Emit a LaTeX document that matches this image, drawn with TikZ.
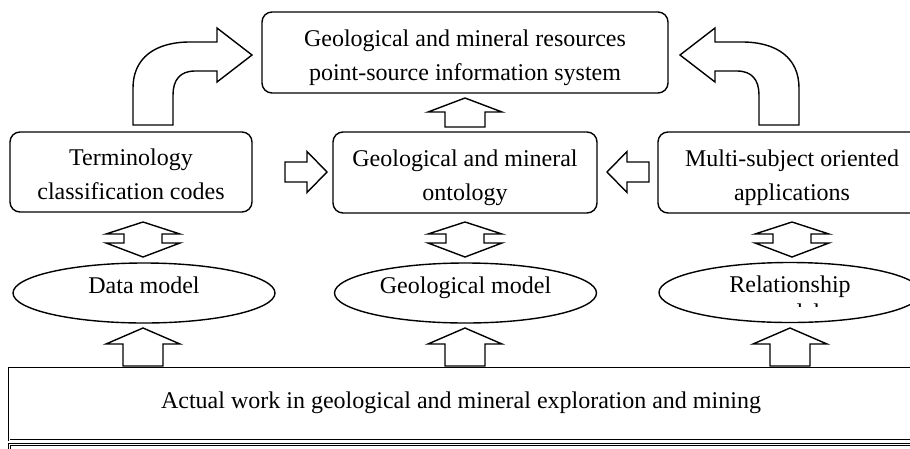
\documentclass[tikz,border=0pt]{standalone}
\usepackage{fontspec}
\setmainfont{Liberation Serif}
\usetikzlibrary{shapes.geometric}
\newcommand\bxstrut{\rule[-6pt]{0pt}{33pt}}
\newcommand\elstrut{\rule[-17pt]{0pt}{34pt}}
\newcommand\wkstrut{\rule[-13pt]{0pt}{34pt}}
\tikzset{
  every node/.style={font=\fontsize{24}{30.5}\selectfont, inner sep=0pt},
  rbox/.style={draw, rounded corners=10pt, align=center, minimum height=81pt},
  oval/.style={draw, ellipse, minimum width=262pt, minimum height=60pt},
  wbox/.style={draw, double, double distance=0.9pt, line width=0.9pt},
  blk/.style={draw, fill=white, line join=miter},
  pics/uparr/.style 2 args={code={\path[blk] (0,0) -- (37,#1) -- (20,#1) -- (20,#2) -- (-20,#2) -- (-20,#1) -- (-37,#1) -- cycle;}},
  pics/dblarr/.style={code={\path[blk] (0,0) -- (37,12) -- (19,12) -- (19,21) -- (37,21) -- (0,35) -- (-37,21) -- (-19,21) -- (-19,12) -- (-37,12) -- cycle;}},
  pics/rtarr/.style={code={\path[blk] (0,0) -- (-20,-20.5) -- (-20,-10) -- (-42,-10) -- (-42,10) -- (-20,10) -- (-20,20.5) -- cycle;}},
  pics/bent/.style={code={\path[blk] (-333,125) -- (-333,88) .. controls (-333,58) and (-311,42) .. (-276,42) -- (-249,42) -- (-249,28) -- (-214,55) -- (-249,82) -- (-249,71) -- (-271,71) .. controls (-286,71) and (-293,80) .. (-293,95) -- (-293,125) -- cycle;}}
}
\begin{document}
\begin{tikzpicture}[x=1pt,y=-1pt,line width=1.4pt]
\clip (0,0) rectangle (910,448);
\fill[white] (0,0) rectangle (910,448);

% boxes
\node[rbox, minimum width=406pt] (sys) at (465,52.5) {\bxstrut Geological and mineral resources\\\bxstrut point-source information system};
\node[rbox, minimum width=242pt, minimum height=80pt] (term) at (131,172) {\bxstrut Terminology\\\bxstrut classification codes};
\node[rbox, minimum width=264pt] (onto) at (465,172.5) {\bxstrut Geological and mineral\\\bxstrut ontology};
\node[rbox, minimum width=268pt] (app) at (792,172.5) {\bxstrut Multi-subject oriented\\\bxstrut applications};

% ellipses
\node[oval] (dm) at (144,293) {\elstrut Data model};
\node[oval] (gm) at (465.5,293) {\elstrut Geological model};
\node[oval] (rm) at (790,292.5) {\elstrut Relationship};
\begin{scope}
  \clip (650,0) rectangle (910,306.8);
  \node[anchor=base] (rm2) at (790,320.7) {model};
\end{scope}

% bottom boxes
\node[wbox, minimum width=904pt, minimum height=72pt] (work) at (461,404) {\wkstrut Actual work in geological and mineral exploration and mining};
\node[wbox, anchor=north west, minimum width=920pt, minimum height=40pt] (next) at (9,444) {};

% arrows
\pic at (465,98) {uparr={14}{29}};
\pic at (143,222) {dblarr};
\pic at (465,222) {dblarr};
\pic at (792,222) {dblarr};
\pic at (143,328) {uparr={16}{38}};
\pic at (465,328) {uparr={16}{38}};
\pic at (790,328) {uparr={16}{38}};
\pic at (327,172) {rtarr};
\pic[xscale=-1] at (607,172) {rtarr};
\pic at (466,0) {bent};
\pic[xscale=-1] at (466,0) {bent};
\end{tikzpicture}
\end{document}
